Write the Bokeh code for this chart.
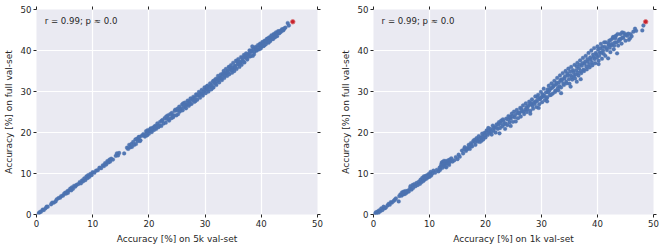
from bokeh.embed import file_html
from bokeh.layouts import row
from bokeh.models import Label, LinearAxis, Range1d, FixedTicker, CustomJSTickFormatter
from bokeh.plotting import figure
from bokeh.resources import INLINE

ticks = [0, 10, 20, 30, 40, 50]
annotation = "r = 0.99; p \u2248 0.0"
y_title = "Accuracy [%] on full val-set"
x_title_5k = "Accuracy [%] on 5k val-set"
x_title_1k = "Accuracy [%] on 1k val-set"

x5k = [
    0.4,0.6,0.8,1.1,1.3,1.6,1.8,2.0,2.6,2.8,
    3.1,3.4,3.6,3.9,4.2,4.4,4.7,4.9,5.1,5.3,
    5.5,5.6,5.8,6.0,6.2,6.3,6.5,6.7,6.9,7.1,
    7.4,7.7,7.9,8.1,8.3,8.5,8.7,8.9,9.1,9.2,
    9.4,9.6,9.8,10.0,10.3,10.6,10.9,11.2,11.5,11.8,
    12.0,12.2,12.4,12.6,12.8,13.0,13.1,13.3,13.6,14.1,
    14.3,14.5,14.7,15.6,16.1,16.3,16.5,16.7,16.9,17.0,
    17.2,17.4,17.6,17.7,17.9,18.0,18.2,18.4,18.5,18.7,
    19.0,19.3,19.5,19.7,19.8,20.0,20.2,20.3,20.5,20.7,
    20.9,21.1,21.3,21.5,21.7,21.9,22.0,22.2,22.4,22.6,
    22.8,23.0,23.2,23.4,23.6,23.8,24.0,24.1,24.3,24.5,
    24.7,24.9,25.0,25.2,25.4,25.5,25.7,25.9,26.0,26.2,
    26.4,26.6,26.7,26.9,27.1,27.2,27.4,27.6,27.7,27.9,
    28.1,28.2,28.4,28.6,28.7,28.9,29.1,29.2,29.4,29.6,
    29.7,29.9,30.1,30.2,30.4,30.6,30.7,30.9,31.1,31.2,
    31.4,31.5,31.7,31.9,32.0,32.2,32.3,32.5,32.7,32.8,
    33.0,33.1,33.3,33.4,33.6,33.7,33.9,34.0,34.2,34.3,
    34.5,34.6,34.8,34.9,35.0,35.2,35.3,35.5,35.6,35.8,
    35.9,36.1,36.2,36.4,36.5,36.7,36.9,37.0,37.2,37.3,
    37.5,37.7,37.9,38.1,38.3,38.5,38.6,38.8,39.0,39.2,
    38.4,39.4,39.6,39.8,40.0,40.2,40.4,40.6,40.8,41.0,
    41.2,41.4,41.6,41.8,42.0,42.2,42.4,42.6,42.8,43.0,
    43.2,43.4,43.5,43.7,43.9,44.1,44.0,44.7,44.9,44.3,
    22.3,23.1,23.5,24.2,24.6,25.1,25.6,26.1,26.5,27.0,
    27.3,27.8,28.3,28.5,29.0,29.5,30.0,30.3,30.5,31.0,
    31.3,31.6,31.8,32.1,32.4,32.6,32.9,33.2,33.5,33.8,
    34.1,34.4,34.7,35.1,35.4,35.7,36.0,36.3,36.6,36.8,
    37.1,37.4,37.6,37.8,38.0,38.2,38.7,38.9,39.1,39.5,
    39.7,39.9,40.1,40.3,40.5,40.7,40.9,41.1,41.3,41.5,
    41.7,41.9,42.1,42.3,42.5,42.7,42.9,43.1,43.3,43.6,
    18.1,18.3,19.1,19.6,20.1,20.4,20.6,21.0,21.2,21.6,
]
y5k = [
    0.3,0.6,0.7,1.2,1.1,1.5,1.9,1.9,2.5,2.9,
    2.9,3.2,3.7,4.0,4.1,4.5,4.6,5.0,5.3,5.1,
    5.7,5.3,5.9,6.3,5.9,6.6,6.3,7.0,6.8,7.2,
    7.4,7.9,7.6,8.3,8.1,8.8,8.4,9.3,8.9,9.6,
    9.2,9.9,9.6,10.3,10.2,10.7,10.8,11.4,11.3,12.0,
    11.8,12.5,12.2,13.0,12.7,13.4,12.9,13.6,13.4,14.3,
    14.9,14.4,15.0,14.9,16.3,16.0,17.0,16.4,17.2,16.5,
    17.7,17.0,18.3,17.2,18.5,17.9,18.9,17.9,18.1,19.2,
    19.6,19.0,20.3,19.3,20.6,19.7,20.4,21.0,20.1,21.2,
    20.6,21.6,20.9,22.2,21.3,21.7,22.6,21.6,23.0,22.2,
    23.5,22.4,23.3,24.2,22.9,24.5,23.5,24.8,23.7,24.2,
    25.6,24.2,25.4,24.5,26.3,25.1,25.9,26.8,25.4,26.2,
    27.3,25.9,26.8,27.8,26.5,27.5,28.3,27.0,27.9,28.7,
    27.5,28.5,29.3,28.0,29.0,29.9,28.5,29.6,30.4,29.0,
    30.0,31.0,29.6,30.7,31.4,30.0,31.1,32.0,30.5,31.6,
    32.5,31.0,32.2,33.1,31.6,33.0,33.8,32.2,33.4,34.2,
    32.8,34.0,35.0,33.3,34.4,35.5,33.8,35.1,36.0,34.2,
    35.4,36.4,34.6,35.8,37.0,35.0,36.3,37.5,35.5,36.7,
    37.9,36.0,37.3,38.4,36.5,37.7,38.9,37.1,38.3,39.3,
    37.8,39.1,40.0,38.6,39.8,38.7,40.4,39.7,40.9,40.0,
    41.0,41.3,40.3,41.7,40.9,42.1,41.1,42.4,41.5,42.8,
    42.1,43.2,42.3,43.7,42.9,44.0,43.2,44.4,43.5,44.7,
    44.2,44.8,44.6,45.2,44.9,45.4,45.2,46.7,46.1,45.6,
    22.9,23.9,23.4,24.1,25.3,25.8,25.5,27.1,26.4,27.2,
    26.9,28.1,27.7,29.2,29.2,29.4,30.3,31.2,30.5,31.3,
    30.9,32.7,31.9,32.5,32.8,33.3,33.2,34.4,33.9,34.6,
    34.7,35.9,35.2,35.6,36.0,37.3,36.7,37.0,38.2,37.3,
    38.6,38.2,39.0,38.5,39.4,40.0,39.1,40.6,40.2,40.7,
    41.4,40.5,41.4,41.8,41.2,42.2,42.3,42.9,41.9,43.0,
    42.7,43.3,42.8,43.9,43.4,43.9,44.2,44.6,44.4,44.9,
    18.4,18.9,19.3,19.9,20.5,20.6,20.9,21.4,21.2,21.7,
]
x1k = [
    0.2,0.4,0.5,0.7,0.9,1.0,1.2,1.4,1.6,1.8,
    2.0,2.2,2.5,2.7,2.9,3.1,3.3,3.6,3.8,4.0,
    4.5,4.6,4.8,5.0,5.1,5.3,5.4,5.6,5.7,5.9,
    6.1,6.3,6.5,6.6,6.8,7.0,7.1,7.3,7.5,7.7,
    7.9,8.1,8.3,8.4,8.6,8.7,8.9,9.0,9.1,9.3,
    9.4,9.6,9.7,9.9,10.0,10.2,10.3,10.5,10.7,11.0,
    11.3,11.6,11.9,12.1,12.3,12.4,12.6,12.7,12.9,13.0,
    13.2,13.3,13.5,13.7,13.9,14.1,14.4,14.7,15.0,15.4,
    15.8,16.0,16.3,16.5,16.8,17.0,17.2,17.4,17.6,17.8,
    18.0,18.2,18.4,18.6,18.8,19.0,19.2,19.4,19.6,19.8,
    20.0,20.2,20.4,20.5,20.7,20.9,21.1,21.3,21.4,21.6,
    21.8,22.0,22.2,22.4,22.6,22.8,23.0,23.1,23.3,23.5,
    23.7,23.9,24.1,24.3,24.5,24.7,24.9,25.1,25.2,25.4,
    25.6,25.8,26.0,26.2,26.3,26.5,26.7,26.9,27.1,27.2,
    27.4,27.6,27.8,28.0,28.2,28.3,28.5,28.7,28.9,29.1,
    29.2,29.4,29.6,29.8,29.9,30.1,30.3,30.4,30.6,30.8,
    31.0,31.1,31.3,31.5,31.6,31.8,32.0,32.1,32.3,32.5,
    32.6,32.8,33.0,33.1,33.3,33.5,33.6,33.8,34.0,34.1,
    34.3,34.5,34.7,34.8,35.0,35.2,35.3,35.5,35.7,35.9,
    36.0,36.2,36.4,36.6,36.7,36.9,37.1,37.2,37.4,37.6,
    37.7,37.9,38.1,38.3,38.4,38.6,38.8,38.9,39.1,39.3,
    39.4,39.6,39.8,40.0,40.2,40.4,40.6,40.8,41.0,41.2,
    41.4,41.6,41.9,42.1,42.3,42.5,42.7,42.9,43.1,43.3,
    43.5,43.7,43.9,44.1,44.3,44.5,44.7,45.0,45.3,45.6,
    45.8,46.1,46.4,46.7,46.9,48.0,48.2,44.0,42.0,43.0,
    15.2,16.2,16.7,17.1,17.5,18.1,18.5,18.9,19.3,19.5,
    19.9,20.1,20.6,21.0,21.5,21.9,22.3,22.7,23.2,23.6,
    24.0,24.4,24.8,25.3,25.7,26.1,26.4,26.8,27.3,27.5,
    27.9,28.1,28.4,28.8,29.0,29.3,29.7,30.0,30.2,30.5,
    30.9,31.2,31.4,31.7,31.9,32.2,32.4,32.7,32.9,33.2,
    33.4,33.7,33.9,34.2,34.4,34.6,34.9,35.1,35.4,35.6,
    35.8,36.1,36.3,36.5,36.8,37.0,37.3,37.5,37.8,38.0,
    38.2,38.5,38.7,39.0,39.2,39.5,39.7,39.9,40.1,40.3,
    40.5,40.7,40.9,41.1,41.3,41.5,41.7,42.0,42.2,42.4,
    42.6,42.8,43.0,43.2,43.4,43.6,43.8,44.2,44.4,44.6,
    44.9,45.1,45.5,45.9,11.8,12.2,12.5,12.8,13.1,13.4,
    12.0,12.6,13.6,5.2,5.5,5.8,9.2,9.5,9.8,10.1,
    35.2,33.5,37.0,40.2,31.0,28.0,24.5,29.5,36.3,22.5,
]
y1k = [
    0.1,0.5,0.2,0.7,0.4,1.0,0.8,1.5,1.1,1.9,
    1.5,1.7,2.2,2.6,2.4,3.0,2.9,3.3,3.6,3.9,
    3.2,4.5,4.9,4.6,5.4,4.9,5.6,5.0,5.7,5.3,
    5.8,5.6,6.3,6.9,6.1,7.2,6.5,7.4,6.9,7.7,
    7.2,8.0,7.5,8.5,7.9,8.9,8.2,9.3,8.5,9.4,
    8.7,9.6,9.0,9.9,9.2,10.4,9.5,10.0,10.7,10.2,
    10.9,10.5,10.9,12.2,11.4,12.8,11.9,12.3,13.0,11.5,
    12.4,13.2,12.1,12.9,13.7,12.9,13.2,14.0,13.5,14.1,
    15.6,14.9,16.4,15.5,16.2,17.0,16.0,17.4,16.6,17.9,
    18.2,17.0,18.6,17.8,19.1,17.7,18.8,19.7,18.3,19.9,
    18.8,20.5,19.4,21.1,19.9,20.9,19.5,21.7,20.4,21.3,
    20.0,22.0,20.9,22.5,21.1,22.9,21.5,23.2,22.0,20.9,
    23.4,21.8,24.0,22.5,23.3,24.6,22.6,25.1,23.7,22.7,
    25.5,23.5,24.6,26.0,23.9,25.2,26.6,24.5,25.6,27.1,
    25.0,26.4,27.5,25.3,26.9,28.1,25.8,27.4,28.8,26.2,
    27.7,29.2,26.9,28.4,29.9,27.4,28.8,30.7,27.9,29.8,
    28.6,30.5,31.4,29.1,30.7,32.0,29.5,31.2,32.6,30.2,
    31.7,33.3,30.3,32.2,33.9,31.0,32.6,34.5,31.6,33.2,
    35.0,32.0,33.9,35.6,31.9,34.0,36.0,32.9,34.7,36.5,
    33.2,35.2,37.0,33.9,35.7,37.6,34.5,36.3,38.2,35.0,
    36.8,38.7,35.4,37.3,39.4,35.9,37.8,40.0,36.4,38.4,
    40.6,36.9,39.0,41.0,37.5,39.5,41.6,38.0,40.0,42.0,
    38.7,40.6,38.1,42.4,39.6,41.3,43.0,40.3,42.0,43.6,
    39.3,41.2,42.7,44.0,41.7,43.2,44.3,42.4,43.6,42.6,
    43.0,43.5,44.6,45.3,44.8,44.9,46.1,42.6,41.3,43.3,
    14.6,16.0,15.9,16.5,17.0,17.6,18.2,18.4,18.0,19.0,
    19.3,20.0,20.4,20.2,21.0,21.2,21.9,22.2,22.8,22.2,
    23.2,23.8,23.9,24.3,24.8,24.9,25.8,25.1,26.2,25.7,
    26.8,27.2,26.5,27.0,27.6,28.6,28.1,28.6,29.3,29.0,
    28.3,29.8,30.2,29.2,30.9,31.5,29.9,32.1,30.8,31.3,
    32.8,33.0,31.9,33.7,32.4,34.4,33.0,34.9,33.5,35.2,
    33.8,34.2,36.1,34.6,36.5,35.0,36.9,35.3,37.3,36.1,
    37.9,36.6,38.3,37.1,39.0,37.9,39.4,38.3,40.2,38.7,
    40.5,39.4,40.9,39.2,40.9,42.0,40.1,41.7,40.7,42.6,
    41.6,43.3,41.2,43.0,42.0,44.0,42.3,42.9,44.4,43.1,
    43.8,43.9,44.1,44.0,11.4,12.7,12.4,11.7,12.7,12.5,
    11.7,13.1,13.4,5.1,5.4,5.5,8.9,9.2,9.5,9.8,
    31.2,29.6,33.0,36.7,27.6,24.6,21.6,26.0,32.4,19.8,
]
best_5k = ([45.6], [47.0])
best_1k = ([48.6], [47.0])

INK = "#262626"
FONT = "DejaVu Sans"


def style_axis(ax, labelled, title=None):
    ax.ticker = FixedTicker(ticks=ticks)
    ax.axis_line_color = None
    ax.major_tick_line_color = INK
    ax.major_tick_line_width = 1
    ax.major_tick_out = 3
    ax.major_tick_in = 0
    ax.minor_tick_line_color = None
    ax.major_label_text_font = FONT
    ax.major_label_text_font_size = "8.6px"
    ax.major_label_text_color = INK
    ax.major_label_standoff = 2 if labelled else 0
    if not labelled:
        ax.formatter = CustomJSTickFormatter(code="return ''")
    if title:
        ax.axis_label = title
        ax.axis_label_text_font = FONT
        ax.axis_label_text_font_size = "9px"
        ax.axis_label_text_font_style = "normal"
        ax.axis_label_text_color = INK
        ax.axis_label_standoff = 4


def panel(xs, ys, best, xlabel, left, right, width):
    p = figure(width=width, height=248, output_backend="svg", toolbar_location=None,
               x_range=Range1d(0, 50), y_range=Range1d(0, 50),
               min_border_left=left, min_border_right=right, min_border_top=9,
               min_border_bottom=34, background_fill_color="#EAEAF2",
               border_fill_color="white", outline_line_color=None)
    p.xgrid.ticker = FixedTicker(ticks=ticks)
    p.ygrid.ticker = FixedTicker(ticks=ticks)
    p.grid.grid_line_color = "white"
    p.grid.grid_line_width = 1.2
    style_axis(p.xaxis[0], True, xlabel)
    style_axis(p.yaxis[0], True, y_title)
    top = LinearAxis()
    style_axis(top, False)
    p.add_layout(top, "above")
    rt = LinearAxis()
    style_axis(rt, False)
    p.add_layout(rt, "right")
    p.scatter(xs, ys, size=3.8, fill_color="#4C72B0", line_color="#4C72B0",
              line_width=0.3, fill_alpha=0.95)
    p.scatter(best[0], best[1], size=4.6, fill_color="#C8222C", line_color="#D9777C",
              line_width=0.8)
    p.add_layout(Label(x=1.45, y=47.1, text=annotation, text_font=FONT, text_font_size="8.6px",
                       text_color=INK, text_baseline="middle"))
    return p


p1 = panel(x5k, y5k, best_5k, x_title_5k, 36, 20, 337)
p2 = panel(x1k, y1k, best_1k, x_title_1k, 36, 11, 327)
layout = row(p1, p2)
open("out.html", "w").write(file_html(layout, INLINE))
